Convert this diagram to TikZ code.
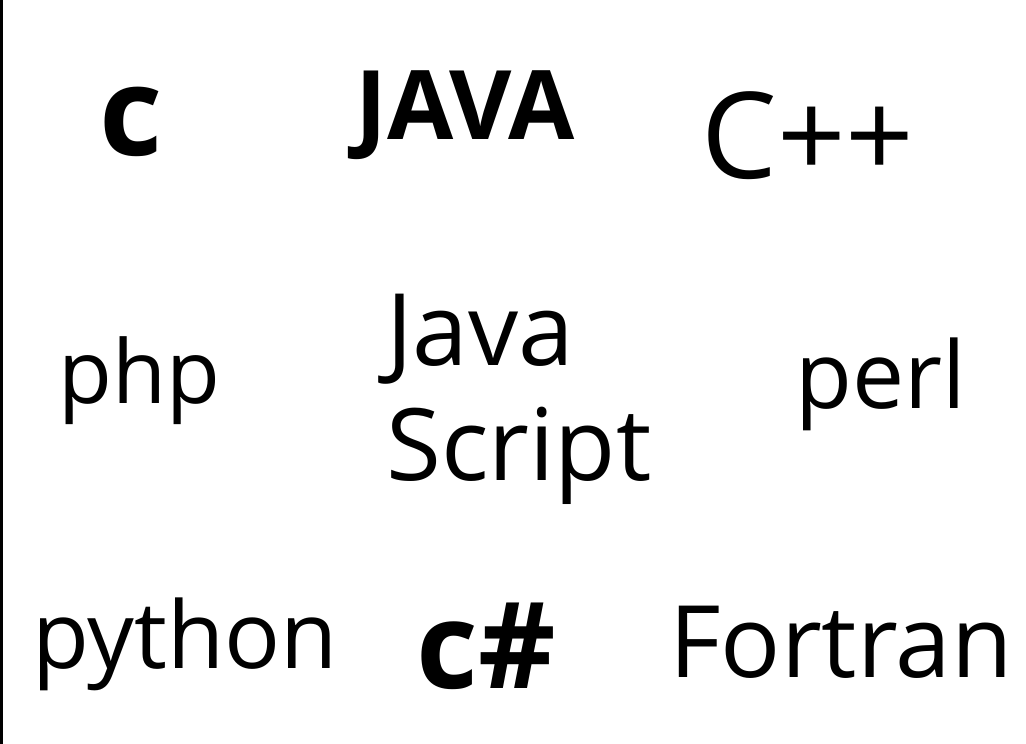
\documentclass[tikz,border=0pt]{standalone}
\usepackage{fontspec}
\setmainfont{Open Sans}
\usepackage{tikz}
\usetikzlibrary{positioning}

\begin{document}
\begin{tikzpicture}[x=1pt, y=-1pt,
        lang/.style={inner sep=0pt, anchor=base, font=\fontsize{#1}{#1}\selectfont},
        langbold/.style={lang=#1, font=\fontsize{#1}{#1}\selectfont\bfseries},
        ]

        \useasboundingbox (0,0) rectangle (1026,744);
        \draw[line width=3pt] (1.5,0) -- (1.5,744);

        % erste Reihe
        \node[langbold=123] (c) at (131,155) {c};
        \node[langbold=96] (java) at (465,139) {JAVA};
        \node[lang=120] (cpp) at (808,178) {C++};

        % zweite Reihe
        \node[lang=88] (php) at (139,403) {php};
        \node[lang=100, anchor=base west, align=left] (js) at (386,480) {Java\\[15pt]Script};
        \node[lang=93] (perl) at (881,408) {perl};

        % dritte Reihe
        \node[lang=93] (python) at (185,668) {python};
        \node[langbold=120] (csharp) at (486,688) {c\#};
        \node[lang=100] (fortran) at (841,677) {Fortran};

        \end{tikzpicture}
\end{document}
